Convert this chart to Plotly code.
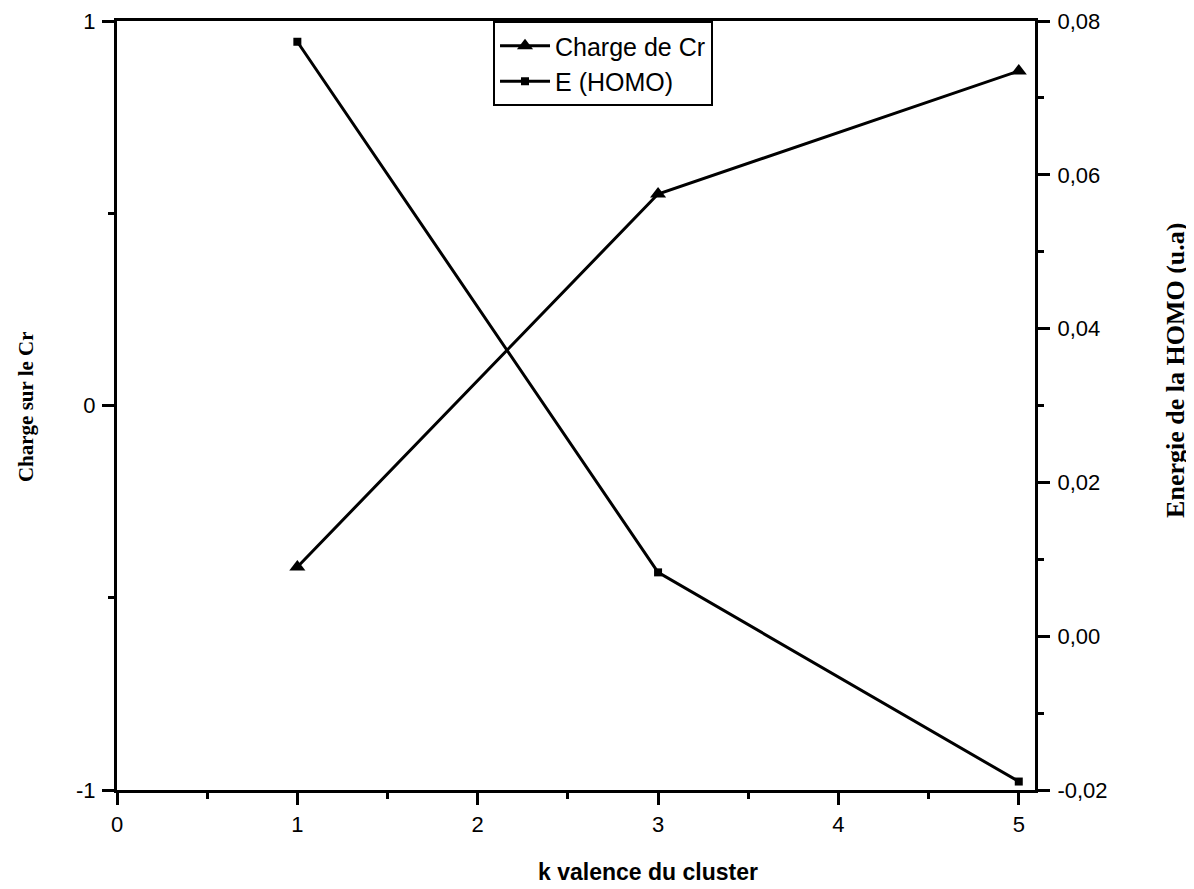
import plotly.graph_objects as go

k = [1, 3, 5]
charge_cr = [-0.42, 0.55, 0.87]
e_homo = [0.0773, 0.0083, -0.0189]

x_ticks = [0, 1, 2, 3, 4, 5]
y1_ticks = [-1, 0, 1]
y1_labels = ["-1", "0", "1"]
y2_ticks = [-0.02, 0.0, 0.02, 0.04, 0.06, 0.08]
y2_labels = ["-0,02", "0,00", "0,02", "0,04", "0,06", "0,08"]

sans = "Liberation Sans, Arial, sans-serif"
serif = "Liberation Serif, Times New Roman, serif"
tick_font = dict(family=sans, size=22, color="black")

fig = go.Figure()
fig.add_trace(go.Scatter(
    x=k, y=charge_cr, name="Charge de Cr", mode="lines+markers",
    line=dict(color="black", width=3),
    marker=dict(symbol="triangle-up", size=14, color="black"),
    yaxis="y",
))
fig.add_trace(go.Scatter(
    x=k, y=e_homo, name="E (HOMO)", mode="lines+markers",
    line=dict(color="black", width=3),
    marker=dict(symbol="square", size=8, color="black"),
    yaxis="y2",
))

common = dict(ticks="outside", ticklen=12, tickwidth=3, tickcolor="black",
              showline=True, linecolor="black", linewidth=3, showgrid=False,
              zeroline=False, tickfont=tick_font, automargin=False)

# the page body adds an 8px offset, so margins are reduced by 8px on left/top
fig.update_layout(
    width=1194, height=889,
    margin=dict(l=109, r=167, t=13, b=107, autoexpand=False),
    paper_bgcolor="white", plot_bgcolor="white",
    showlegend=True,
    legend=dict(
        x=0.4096, y=1.0, xanchor="left", yanchor="top",
        bgcolor="white", bordercolor="black", borderwidth=2,
        font=dict(family=sans, size=25, color="black"),
        tracegroupgap=0, itemwidth=50,
    ),
    xaxis=dict(
        range=[0, 5.09], tickvals=x_ticks, mirror=True, ticklabelstandoff=1,
        minor=dict(dtick=0.5, tick0=0, ticks="outside", ticklen=6, tickwidth=3, tickcolor="black"),
        **common,
    ),
    yaxis=dict(
        range=[-1, 1], tickvals=y1_ticks, ticktext=y1_labels, ticklabelstandoff=2,
        minor=dict(dtick=0.5, tick0=0, ticks="outside", ticklen=6, tickwidth=3, tickcolor="black"),
        **common,
    ),
    yaxis2=dict(
        range=[-0.02, 0.08], overlaying="y", side="right", tickvals=y2_ticks, ticktext=y2_labels,
        ticklabelstandoff=3,
        minor=dict(dtick=0.01, tick0=0, ticks="outside", ticklen=6, tickwidth=3, tickcolor="black"),
        **common,
    ),
    annotations=[
        dict(text="<b>k valence du cluster</b>", xref="paper", yref="paper",
             x=0.5784, y=-0.1066, xanchor="center", yanchor="middle", showarrow=False,
             font=dict(family=sans, size=23, color="black")),
        dict(text="<b>Charge sur le Cr</b>", xref="paper", yref="paper",
             x=-0.0991, y=0.498, xanchor="center", yanchor="middle", showarrow=False,
             textangle=-90, font=dict(family=serif, size=21, color="black")),
        dict(text="<b>Energie de la HOMO (u.a)</b>", xref="paper", yref="paper",
             x=1.1536, y=0.545, xanchor="center", yanchor="middle", showarrow=False,
             textangle=-90, font=dict(family=serif, size=26, color="black")),
    ],
)

fig.write_html("out.html")
